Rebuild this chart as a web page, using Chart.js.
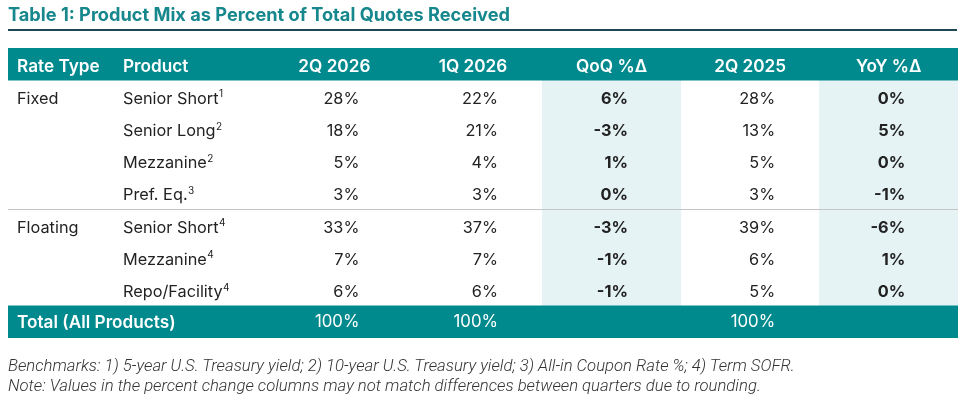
<!DOCTYPE html>
<html lang="en">
<head>
  <meta charset="UTF-8">
  <title>Product Mix as Percent of Total Quotes Received</title>
  <script src="https://cdn.jsdelivr.net/npm/chart.js"></script>
  <style>
    html, body { margin: 0; padding: 0; background: #fff; }
    .pantalla { position: relative; width: 965px; height: 402px; overflow: hidden; }
    .titulo {
      position: absolute; left: 8px; top: 4px; margin: 0;
      font: 700 18.2px/20px "Inter", sans-serif; color: #16878c; white-space: nowrap;
    }
    .regla { position: absolute; left: 8px; top: 29px; width: 949px; height: 2px; background: #1f4755; }
    .notas {
      position: absolute; left: 8px; top: 356px; margin: 0;
      font: italic 300 16.7px/20px "Roboto", sans-serif; color: #333; white-space: nowrap;
    }
    .lienzo { position: absolute; left: 0; top: 0; width: 965px; height: 402px; }
  </style>
</head>
<body>
  <div class="pantalla">
    <div class="lienzo"><canvas id="tabla"></canvas></div>
    <h1 class="titulo">Table 1: Product Mix as Percent of Total Quotes Received</h1>
    <div class="regla"></div>
    <p class="notas">Benchmarks: 1) 5-year U.S. Treasury yield; 2) 10-year U.S. Treasury yield; 3) All-in Coupon Rate %; 4) Term SOFR.<br>Note: Values in the percent change columns may not match differences between quarters due to rounding.</p>
  </div>
  <script>
    // Datos de la tabla
    const columnas = ["Rate Type", "Product", "2Q 2026", "1Q 2026", "QoQ %\u0394", "2Q 2025", "YoY %\u0394"];
    const tiposTasa = ["Fixed", "", "", "", "Floating", "", ""];
    const productos = ["Senior Short", "Senior Long", "Mezzanine", "Pref. Eq.", "Senior Short", "Mezzanine", "Repo/Facility"];
    const notas = ["1", "2", "2", "3", "4", "4", "4"];
    const q2_2026 = [28, 18, 5, 3, 33, 7, 6];
    const q1_2026 = [22, 21, 4, 3, 37, 7, 6];
    const qoq = [6, -3, 1, 0, -3, -1, -1];
    const q2_2025 = [28, 13, 5, 3, 39, 6, 5];
    const yoy = [0, 5, 0, -1, -6, 1, 0];
    const totalEtiqueta = "Total (All Products)";
    const totales = [100, 100, null, 100, null];

    const series = [q2_2026, q1_2026, qoq, q2_2025, yoy];
    const esDelta = [false, false, true, false, true];
    const filas = ["head"].concat(productos.map((p, i) => "r" + i), ["total"]);
    const nFilas = filas.length;

    const TEAL = "#008a8e";
    const CLARO = "#e6f3f5";
    const X_MIN = -2.355, X_MAX = 4.5;

    // Bandas: cabecera y total, columnas resaltadas
    const bandas = filas.map((f, i) => (i === 0 || i === nFilas - 1) ? [X_MIN, X_MAX] : null);
    const celdasQoq = filas.map((f, i) => (i > 0 && i < nFilas - 1) ? [1.5, 2.5] : null);
    const celdasYoy = filas.map((f, i) => (i > 0 && i < nFilas - 1) ? [3.5, 4.5] : null);

    const pct = v => v + "%";

    const textos = {
      id: "textos",
      afterDatasetsDraw(chart) {
        const ctx = chart.ctx;
        const x = chart.scales.x, y = chart.scales.y;
        const izq = chart.chartArea.left;
        const colRate = izq + 9, colProd = izq + 115;
        ctx.save();

        // linea entre Fixed y Floating
        const yLinea = Math.round((y.getPixelForValue(4) + y.getPixelForValue(5)) / 2) + 0.5;
        ctx.strokeStyle = "#c4c4c4";
        ctx.lineWidth = 1.2;
        ctx.beginPath();
        ctx.moveTo(chart.chartArea.left, yLinea);
        ctx.lineTo(chart.chartArea.right, yLinea);
        ctx.stroke();

        ctx.textBaseline = "middle";

        // cabecera
        const yCab = y.getPixelForValue(0) + 2.5;
        ctx.fillStyle = "#ffffff";
        ctx.font = "600 17.2px Inter";
        ctx.textAlign = "left";
        ctx.fillText(columnas[0], colRate, yCab);
        ctx.fillText(columnas[1], colProd, yCab);
        ctx.textAlign = "center";
        for (let c = 0; c < 5; c++) {
          ctx.fillText(columnas[c + 2], x.getPixelForValue(c), yCab);
        }

        // filas de datos
        for (let r = 0; r < productos.length; r++) {
          const yy = y.getPixelForValue(r + 1) + 2.5;
          ctx.fillStyle = "#222222";
          ctx.font = "400 16.3px Inter";
          ctx.textAlign = "left";
          if (tiposTasa[r]) ctx.fillText(tiposTasa[r], colRate, yy);
          ctx.fillText(productos[r], colProd, yy);
          const w = ctx.measureText(productos[r]).width;
          ctx.font = "400 10px Inter";
          ctx.fillText(notas[r], colProd + w + 0.5, yy - 4.5);

          ctx.textAlign = "right";
          for (let c = 0; c < 5; c++) {
            ctx.font = esDelta[c] ? "700 16.3px Inter" : "400 16.3px Inter";
            const off = esDelta[c] ? 16.5 : 25;
            ctx.fillText(pct(series[c][r]), x.getPixelForValue(c) + off, yy);
          }
        }

        // fila total
        const yTot = y.getPixelForValue(nFilas - 1) + 0.5;
        ctx.fillStyle = "#ffffff";
        ctx.textAlign = "left";
        ctx.font = "600 17.2px Inter";
        ctx.fillText(totalEtiqueta, colRate, yTot);
        ctx.textAlign = "right";
        ctx.font = "400 16.8px Inter";
        for (let c = 0; c < 5; c++) {
          if (totales[c] !== null) ctx.fillText(pct(totales[c]), x.getPixelForValue(c) + 25, yTot);
        }
        ctx.restore();
      }
    };

    new Chart(document.getElementById("tabla"), {
      type: "bar",
      data: {
        labels: filas,
        datasets: [
          { label: "bandas", data: bandas, backgroundColor: TEAL },
          { label: "QoQ", data: celdasQoq, backgroundColor: CLARO },
          { label: "YoY", data: celdasYoy, backgroundColor: CLARO }
        ]
      },
      options: {
        indexAxis: "y",
        responsive: true,
        maintainAspectRatio: false,
        animation: false,
        layout: { padding: { left: 8, right: 7, top: 48, bottom: 64 } },
        datasets: { bar: { grouped: false, barPercentage: 1, categoryPercentage: 1, borderWidth: 0 } },
        scales: {
          x: { type: "linear", min: X_MIN, max: X_MAX, display: false },
          y: { type: "category", display: false }
        },
        plugins: { legend: { display: false }, tooltip: { enabled: false } }
      },
      plugins: [textos]
    });
  </script>
</body>
</html>
